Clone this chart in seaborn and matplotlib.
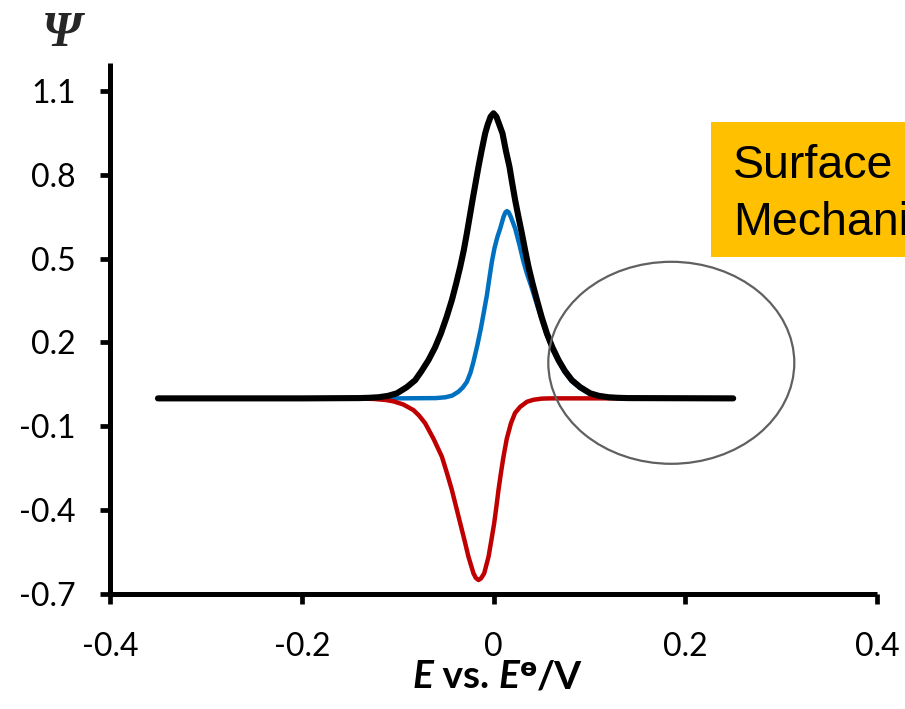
import matplotlib
matplotlib.use("Agg")
import matplotlib.pyplot as plt
from matplotlib.patches import Ellipse, Rectangle
import seaborn as sns
import pandas as pd

# ---------------- data ----------------
black_x = [-0.350, -0.200, -0.140, -0.130, -0.120, -0.110, -0.1008, -0.0905, -0.0817,
           -0.0750, -0.0678, -0.0610, -0.0549, -0.0490, -0.0434, -0.0390, -0.0347,
           -0.0310, -0.0278, -0.0219, -0.0157, -0.0125, -0.0087, -0.0060, -0.0030,
           0.0000, 0.0030, 0.0060, 0.0094, 0.0130, 0.0167, 0.0195, 0.0226, 0.0260,
           0.0296, 0.0330, 0.0365, 0.0408, 0.0453, 0.0503, 0.0557, 0.0615, 0.0678,
           0.0745, 0.0818, 0.0905, 0.1009, 0.110, 0.120, 0.130, 0.140, 0.250]
black_y = [0.000, 0.000, 0.001, 0.002, 0.004, 0.009, 0.018, 0.040, 0.065,
           0.098, 0.137, 0.182, 0.232, 0.290, 0.352, 0.410, 0.471,
           0.530, 0.590, 0.709, 0.828, 0.885, 0.948, 0.980, 1.008,
           1.020, 1.008, 0.980, 0.948, 0.885, 0.828, 0.770, 0.709, 0.650,
           0.590, 0.530, 0.471, 0.410, 0.352, 0.290, 0.232, 0.182, 0.137,
           0.098, 0.065, 0.040, 0.018, 0.009, 0.004, 0.002, 0.001, 0.000]

blue_x = [-0.350, -0.100, -0.060, -0.050, -0.0430, -0.0365, -0.0320, -0.0278, -0.0240,
          -0.0209, -0.0170, -0.0132, -0.0100, -0.0069, -0.0043, -0.0017, 0.0010,
          0.0040, 0.0070, 0.0090, 0.0105, 0.0125, 0.0140, 0.0158, 0.0180, 0.0226,
          0.0271, 0.0313, 0.0350, 0.0395, 0.0445, 0.0500, 0.0555, 0.0612, 0.0675,
          0.0742, 0.0815, 0.0902, 0.1005, 0.110, 0.120, 0.140, 0.250]
blue_y = [0.000, 0.000, 0.001, 0.004, 0.010, 0.024, 0.039, 0.059, 0.092,
          0.131, 0.188, 0.250, 0.310, 0.369, 0.430, 0.489, 0.537,
          0.577, 0.608, 0.632, 0.650, 0.666, 0.670, 0.666, 0.650, 0.608,
          0.549, 0.489, 0.445, 0.400, 0.345, 0.285, 0.228, 0.178, 0.134,
          0.095, 0.062, 0.037, 0.016, 0.008, 0.003, 0.001, 0.000]

red_x = [-0.350, -0.150, -0.125, -0.112, -0.104, -0.0940, -0.0835, -0.0775, -0.0713,
         -0.0625, -0.0538, -0.0485, -0.0434, -0.0390, -0.0347, -0.0303, -0.0261,
         -0.0209, -0.0185, -0.0157, -0.0130, -0.0097, -0.0052, -0.0022, 0.0007,
         0.0030, 0.0052, 0.0077, 0.0104, 0.0138, 0.0182, 0.0225, 0.0279, 0.0350,
         0.0417, 0.0500, 0.060, 0.250]
red_y = [0.000, 0.000, -0.002, -0.006, -0.011, -0.022, -0.042, -0.062, -0.089,
         -0.145, -0.209, -0.268, -0.328, -0.388, -0.447, -0.507, -0.567,
         -0.626, -0.642, -0.650, -0.644, -0.626, -0.567, -0.507, -0.447,
         -0.388, -0.328, -0.268, -0.209, -0.145, -0.089, -0.052, -0.030, -0.012,
         -0.005, -0.001, 0.000, 0.000]

x_ticks = [-0.4, -0.2, 0.0, 0.2, 0.4]
x_tick_labels = ["-0.4", "-0.2", "0", "0.2", "0.4"]
y_ticks = [-0.7, -0.4, -0.1, 0.2, 0.5, 0.8, 1.1]
y_tick_labels = ["-0.7", "-0.4", "-0.1", "0.2", "0.5", "0.8", "1.1"]

box_lines = ["Surface", "Mechani"]

# ---------------- figure ----------------
sns.set_theme(style="ticks")
plt.rcParams["font.family"] = ["Lato", "DejaVu Sans"]

W, H = 905, 709
fig = plt.figure(figsize=(W / 100, H / 100), dpi=100)
fig.patch.set_facecolor("white")

ax = fig.add_axes([110 / W, 1 - 594 / H, 767 / W, (594 - 63) / H])
ax.set_facecolor("white")

df_blue = pd.DataFrame({"x": blue_x, "y": blue_y})
df_red = pd.DataFrame({"x": red_x, "y": red_y})
df_black = pd.DataFrame({"x": black_x, "y": black_y})

common = dict(sort=False, estimator=None, ax=ax, solid_capstyle="round",
              solid_joinstyle="round")
sns.lineplot(data=df_blue, x="x", y="y", color="#0070C0", linewidth=3.2, **common)
sns.lineplot(data=df_red, x="x", y="y", color="#C00000", linewidth=3.2, **common)
sns.lineplot(data=df_black, x="x", y="y", color="#000000", linewidth=4.4, **common)

ax.set_xlim(-0.4, 0.4)
ax.set_ylim(-0.7, 1.2)
ax.set_xticks(x_ticks)
ax.set_xticklabels(x_tick_labels)
ax.set_yticks(y_ticks)
ax.set_yticklabels(y_tick_labels)
ax.set_xlabel("")
ax.set_ylabel("")

for side in ["top", "right"]:
    ax.spines[side].set_visible(False)
for side in ["left", "bottom"]:
    ax.spines[side].set_linewidth(3.6)
    ax.spines[side].set_color("black")
    ax.spines[side].set_capstyle("butt")

ax.tick_params(axis="both", direction="out", length=7.5, width=3.4, color="black",
               labelsize=23, labelcolor="black")
ax.tick_params(axis="y", pad=17)
ax.tick_params(axis="x", pad=20)
ax.grid(False)

# y-axis label Psi
fig.text(62 / W, 1 - 34 / H, "\u03A8", family=["Liberation Serif", "DejaVu Serif"],
         fontweight="bold", fontstyle="italic", fontsize=36, ha="center", va="center")

# x-axis label built from pieces
renderer = fig.canvas.get_renderer()
pieces = [
    ("E", dict(fontweight="bold", fontstyle="italic", fontsize=28), 0),
    (" vs. ", dict(fontweight="bold", fontsize=28), 0),
    ("E", dict(fontweight="bold", fontstyle="italic", fontsize=28), 0),
    ("\u04E9", dict(fontweight="bold", fontsize=18, family=["DejaVu Sans"]), 12),
    ("/V", dict(fontweight="bold", fontsize=28), 0),
]
x_px = 412
base_px = 688
for s, kw, rise in pieces:
    t = fig.text(x_px / W, 1 - (base_px - rise) / H, s, ha="left", va="baseline",
                 color="black", **kw)
    bb = t.get_window_extent(renderer=renderer)
    x_px += bb.width

# orange box (its text runs off the right edge, as in the reference)
fig.patches.append(Rectangle((711 / W, 1 - 257 / H), (W - 711) / W + 0.05, 135 / H,
                             transform=fig.transFigure, facecolor="#FFC000",
                             edgecolor="none", zorder=5))
fig.text(733 / W, 1 - 178 / H, box_lines[0], family=["Liberation Sans"], fontsize=33.5,
         ha="left", va="baseline", color="black", zorder=6)
fig.text(733 / W, 1 - 235 / H, box_lines[1], family=["Liberation Sans"], fontsize=33.5,
         ha="left", va="baseline", color="black", zorder=6)

# grey ellipse
fig.patches.append(Ellipse((671.3 / W, 1 - 362.8 / H), 246 / W, 202 / H,
                           transform=fig.transFigure, facecolor="none",
                           edgecolor="#606060", linewidth=1.6, zorder=6))

fig.savefig("out.png", dpi=100, facecolor="white")
